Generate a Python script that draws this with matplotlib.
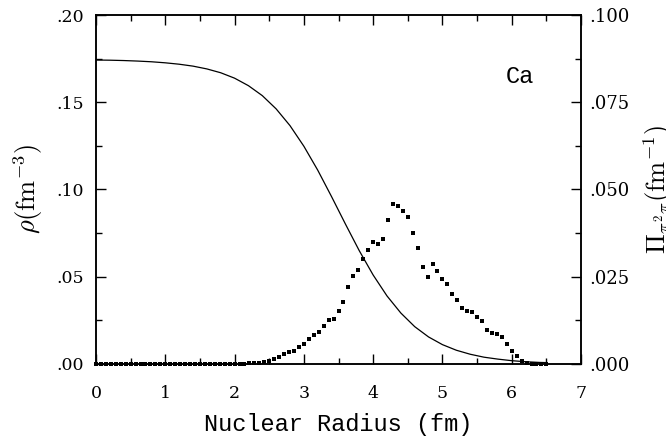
import numpy as np
import matplotlib
matplotlib.use("Agg")
import matplotlib.pyplot as plt
from matplotlib.ticker import MultipleLocator, FuncFormatter

plt.rcParams['mathtext.fontset'] = 'cm'
plt.rcParams['font.family'] = ['DejaVu Serif']

# Nuclear density rho(r) (fm^-3)
radius_rho = [0.0, 0.2, 0.4, 0.6, 0.8, 1.0, 1.2, 1.4, 1.6, 1.8, 2.0, 2.2, 2.4, 2.6,
              2.8, 3.0, 3.2, 3.4, 3.6, 3.8, 4.0, 4.2, 4.4, 4.6, 4.8, 5.0, 5.2, 5.4,
              5.6, 5.8, 6.0, 6.2, 6.4, 6.5]
rho = [0.1742, 0.1741, 0.1739, 0.1736, 0.1732, 0.1726, 0.1718, 0.1707, 0.1691,
       0.1669, 0.1638, 0.1595, 0.1538, 0.1462, 0.1366, 0.1248, 0.1111, 0.0959,
       0.0802, 0.0649, 0.0510, 0.0390, 0.0292, 0.0214, 0.0155, 0.0111, 0.0079,
       0.0056, 0.0039, 0.0028, 0.0019, 0.0013, 0.0009, 0.0008]

# Pi_{pi2pi}(r) (fm^-1), dotted series on a grid of 1/14 fm
n_pts = 92
radius_pi = np.arange(n_pts) / 14.0
pi_vals = [0.0] * 29 + [
    0.0001, 0.0001, 0.0002, 0.0002, 0.0003,
    0.0005, 0.0009, 0.0014, 0.0019, 0.0029, 0.0033, 0.0038, 0.0048, 0.0057,
    0.0072, 0.0083, 0.0093, 0.0109, 0.0126, 0.0128, 0.0151, 0.0177, 0.0222,
    0.0252, 0.0269, 0.0301, 0.0328, 0.0349, 0.0344, 0.0359, 0.0412, 0.0458,
    0.0453, 0.0438, 0.0420, 0.0376, 0.0332, 0.0277, 0.0248, 0.0286, 0.0267,
    0.0244, 0.0230, 0.0202, 0.0184, 0.0160, 0.0152, 0.0149, 0.0136, 0.0122,
    0.0096, 0.0088, 0.0086, 0.0076, 0.0057, 0.0038, 0.0024, 0.0009,
    0.0003, 0.0, 0.0, 0.0, 0.0]
pi_vals = pi_vals[:n_pts]

W, H = 666, 447
fig = plt.figure(figsize=(W / 100, H / 100), dpi=100)
fig.subplots_adjust(left=96 / W, right=581 / W, top=1 - 15 / H, bottom=1 - 364 / H)
ax = fig.add_subplot(111)
ax2 = ax.twinx()

ax.plot(radius_rho, rho, color='black', lw=0.9)
ax2.plot(radius_pi, pi_vals, linestyle='none', marker='s', ms=2.7, color='black',
         markeredgewidth=0, clip_on=False)

ax.set_xlim(0, 7)
ax.set_ylim(0, 0.20)
ax2.set_ylim(0, 0.100)

def strip0(fmt):
    def f(v, pos):
        s = format(v, fmt)
        if s.startswith('0.'):
            s = s[1:]
        return s
    return FuncFormatter(f)

ax.xaxis.set_major_locator(MultipleLocator(1))
ax.xaxis.set_minor_locator(MultipleLocator(0.5))
ax.yaxis.set_major_locator(MultipleLocator(0.05))
ax.yaxis.set_minor_locator(MultipleLocator(0.025))
ax.yaxis.set_major_formatter(strip0('.2f'))
ax2.yaxis.set_major_locator(MultipleLocator(0.025))
ax2.yaxis.set_minor_locator(MultipleLocator(0.0125))
ax2.yaxis.set_major_formatter(strip0('.3f'))

ax.tick_params(axis='x', which='both', direction='in', top=True, pad=15)
ax.tick_params(axis='y', which='both', direction='in', right=False, pad=9)
ax.tick_params(which='major', length=7, width=1)
ax.tick_params(which='minor', length=4, width=1)
ax2.tick_params(axis='y', which='both', direction='in', pad=6)
ax2.tick_params(which='major', length=7, width=1)
ax2.tick_params(which='minor', length=4, width=1)

for lab in ax.get_xticklabels() + ax.get_yticklabels():
    lab.set_fontfamily('DejaVu Serif')
    lab.set_fontsize(12.5)
for lab in ax2.get_yticklabels():
    lab.set_fontfamily('DejaVu Serif')
    lab.set_fontsize(13)

for a in (ax, ax2):
    for s in a.spines.values():
        s.set_linewidth(1.1)

ax.set_xlabel('Nuclear Radius (fm)', family='Liberation Mono', fontsize=17)
ax.xaxis.set_label_coords(0.5, -0.14)
ax.set_ylabel(r'$\rho(\mathrm{fm}^{-3})$', fontsize=19)
ax.yaxis.set_label_coords(-0.105, 0.5)
ax2.set_ylabel(r'$\Pi_{\pi^2\pi}(\mathrm{fm}^{-1})$', fontsize=19, rotation=90)
ax2.yaxis.set_label_coords(1.125, 0.5)

ax.text(6.12, 0.165, 'Ca', family='Liberation Mono', fontsize=17,
        ha='center', va='center')

fig.savefig('out.png', dpi=100)
